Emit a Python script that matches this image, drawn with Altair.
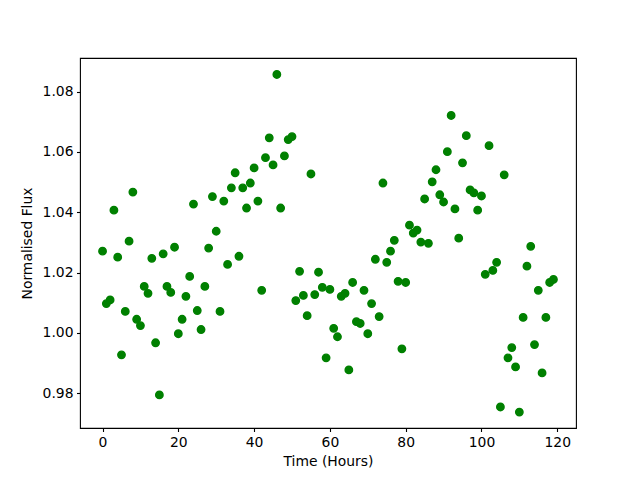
import altair as alt
import pandas as pd

hours = list(range(120))
flux = [
    1.0271, 1.0097, 1.0109, 1.0407, 1.0251, 0.9927, 1.0071, 1.0304, 1.0467, 1.0045,
    1.0024, 1.0154, 1.0131, 1.0247, 0.9967, 0.9794, 1.0262, 1.0154, 1.0134, 1.0284,
    0.9997, 1.0045, 1.0121, 1.0187, 1.0427, 1.0074, 1.0011, 1.0154, 1.0281, 1.0452,
    1.0337, 1.0071, 1.0437, 1.0227, 1.0481, 1.0531, 1.0254, 1.0481, 1.0414, 1.0497,
    1.0547, 1.0437, 1.0141, 1.0581, 1.0647, 1.0557, 1.0857, 1.0414, 1.0587, 1.0641,
    1.0651, 1.0107, 1.0204, 1.0124, 1.0057, 1.0527, 1.0127, 1.0201, 1.0151, 0.9917,
    1.0144, 1.0015, 0.9987, 1.0121, 1.0131, 0.9877, 1.0167, 1.0037, 1.0031, 1.0141,
    0.9997, 1.0097, 1.0244, 1.0054, 1.0497, 1.0234, 1.0271, 1.0307, 1.0171, 0.9947,
    1.0167, 1.0357, 1.0331, 1.0341, 1.0301, 1.0444, 1.0297, 1.0501, 1.0541, 1.0458,
    1.0434, 1.0601, 1.0721, 1.0411, 1.0314, 1.0564, 1.0654, 1.0474, 1.0464, 1.0407,
    1.0454, 1.0194, 1.0621, 1.0207, 1.0234, 0.9754, 1.0524, 0.9917, 0.9951, 0.9887,
    0.9737, 1.0051, 1.0221, 1.0287, 0.9961, 1.0141, 0.9867, 1.0051, 1.0167, 1.0177,
]
x_ticks = [0, 20, 40, 60, 80, 100, 120]
y_ticks = [0.98, 1.00, 1.02, 1.04, 1.06, 1.08]

df = pd.DataFrame({"Time": hours, "Flux": flux})

font = "DejaVu Sans"

chart = alt.Chart(df).mark_point(
    filled=True, shape="circle", size=55, color="#008000",
    stroke="#008000", strokeWidth=1.4, opacity=1
).encode(
    x=alt.X("Time:Q", title="Time (Hours)",
            scale=alt.Scale(domain=[-5.95, 124.95], nice=False, zero=False),
            axis=alt.Axis(values=x_ticks, format="d", titlePadding=6)),
    y=alt.Y("Flux:Q", title="Normalised Flux",
            scale=alt.Scale(domain=[0.96843, 1.09117], nice=False, zero=False),
            axis=alt.Axis(values=y_ticks, format=".2f", titlePadding=8)),
).properties(
    width=496, height=370,
    background="white",
    autosize=alt.AutoSizeParams(type="none"),
    padding={"left": 72, "top": 50, "right": 56, "bottom": 44},
).configure_view(
    stroke="black", strokeWidth=1.1, fill="white"
).configure_axis(
    grid=False, domain=False,
    tickColor="black", tickSize=3.5, tickWidth=1.1,
    labelFont=font, labelFontSize=13.9, labelColor="black", labelPadding=3.5,
    titleFont=font, titleFontSize=13.9, titleColor="black", titleFontWeight="normal",
)

chart.save("out.html", embed_options={"renderer": "svg", "actions": False})
